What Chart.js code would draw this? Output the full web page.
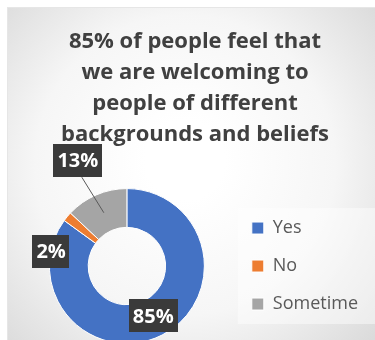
<!DOCTYPE html>
<html>
<head>
<meta charset="utf-8">
<script src="https://cdn.jsdelivr.net/npm/chart.js@4"></script>
<style>
  html, body { margin: 0; padding: 0; overflow: hidden; background: #fff; }
  #wrap { width: 375px; height: 360px; }
</style>
</head>
<body>
<div id="wrap"><canvas id="c" width="375" height="360"></canvas></div>
<script>
const categories = ['Yes', 'No', 'Sometime'];
const values = [85, 2, 13];
const valueLabels = ['85%', '2%', '13%'];
const titleLines = ['85% of people feel that', 'we are welcoming to', 'people of different', 'backgrounds and beliefs'];
const colors = ['#4472C4', '#ED7D31', '#A5A5A5'];

const FONT = "'Open Sans', 'DejaVu Sans', sans-serif";

const bgPlugin = {
  id: 'bg',
  beforeDraw(chart) {
    const ctx = chart.ctx;
    const w = chart.width, h = chart.height;
    ctx.save();
    ctx.fillStyle = '#ffffff';
    ctx.fillRect(0, 0, w, h);
    const g = ctx.createRadialGradient(185, 160, 40, 185, 170, 260);
    g.addColorStop(0, '#ffffff');
    g.addColorStop(0.5, '#f6f6f6');
    g.addColorStop(1, '#d9d9d9');
    ctx.fillStyle = g;
    ctx.fillRect(8, 8, w - 8, h - 8);
    ctx.strokeStyle = '#e6e6e6';
    ctx.lineWidth = 1;
    ctx.strokeRect(7.5, 7.5, w, h);
    // legend panel
    const lg = chart.legend;
    if (lg) {
      ctx.fillStyle = 'rgba(255,255,255,0.45)';
      ctx.fillRect(lg.left + 6, lg.top + 20, lg.width + 10, lg.height - 40);
    }
    ctx.restore();
  }
};

// per-label pixel offsets from the mid-ring point of each slice
const labelOffsets = [[0, -2], [-31, 22], [-26, -52]];

const labelPlugin = {
  id: 'dlabels',
  afterDatasetsDraw(chart) {
    const ctx = chart.ctx;
    const meta = chart.getDatasetMeta(0);
    ctx.save();
    ctx.font = 'bold 20px ' + FONT;
    ctx.textAlign = 'center';
    ctx.textBaseline = 'middle';
    meta.data.forEach((arc, i) => {
      const p = arc.getProps(['x', 'y', 'startAngle', 'endAngle', 'innerRadius', 'outerRadius'], true);
      const mid = (p.startAngle + p.endAngle) / 2;
      const r = (p.innerRadius + p.outerRadius) / 2;
      const ax = p.x + Math.cos(mid) * r;
      const ay = p.y + Math.sin(mid) * r;
      const lx = ax + labelOffsets[i][0];
      const ly = ay + labelOffsets[i][1];
      const txt = valueLabels[i];
      const tw = ctx.measureText(txt).width;
      const bw = tw + 8, bh = 33;
      if (Math.hypot(lx - ax, ly - ay) > 45) {
        ctx.strokeStyle = '#595959';
        ctx.lineWidth = 1;
        ctx.beginPath();
        ctx.moveTo(lx + 4, ly + bh / 2);
        ctx.lineTo(ax, ay);
        ctx.stroke();
      }
      ctx.fillStyle = '#3a3a3a';
      ctx.fillRect(Math.round(lx - bw / 2), Math.round(ly - bh / 2), Math.round(bw), bh);
      ctx.fillStyle = '#ffffff';
      ctx.fillText(txt, lx, ly + 1);
    });
    ctx.restore();
  }
};

new Chart(document.getElementById('c'), {
  type: 'doughnut',
  data: {
    labels: categories,
    datasets: [{
      data: values,
      backgroundColor: colors,
      borderColor: '#ffffff',
      borderWidth: 1,
      hoverOffset: 0,
      offset: 0
    }]
  },
  options: {
    responsive: false,
    animation: false,
    cutout: '50%',
    layout: { padding: { left: 22, right: 7, top: 0, bottom: 16 } },
    plugins: {
      tooltip: { enabled: false },
      title: {
        display: true,
        fullSize: true,
        text: titleLines,
        color: '#404040',
        font: { family: FONT, size: 22, weight: 'bold', lineHeight: 1.41 },
        padding: { top: 26.5, bottom: 37.5 }
      },
      legend: {
        position: 'right',
        fullSize: false,
        labels: {
          boxWidth: 12,
          boxHeight: 12,
          padding: 20,
          color: '#595959',
          font: { family: FONT, size: 18 }
        }
      }
    }
  },
  plugins: [bgPlugin, labelPlugin]
});
</script>
</body>
</html>
